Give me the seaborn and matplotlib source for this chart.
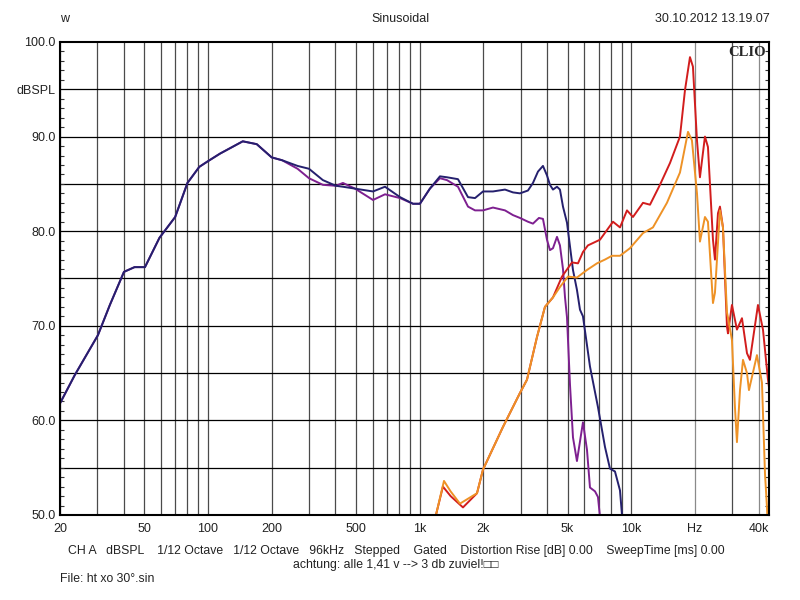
import pandas as pd
import matplotlib.pyplot as plt
import matplotlib.ticker as mticker
import seaborn as sns

# frequency (Hz) / level (dBSPL)
navy_f = [20, 23.5, 30.2, 34.4, 40.1, 45, 50.4, 59, 70, 80, 91, 100, 114, 146, 170, 200, 224,
          265, 300, 349, 402, 434, 495, 602, 686, 808, 930, 1003, 1118, 1247, 1346, 1517, 1692,
          1826, 1992, 2220, 2530, 2760, 2978, 3248, 3430, 3622, 3824, 3994, 4126, 4264, 4454,
          4600, 4754, 4966, 5130, 5300, 5534, 5720, 5908, 6376, 6956, 7506, 7926, 8368, 8838,
          9032, 9300]
navy_db = [61.8, 64.8, 69.0, 72.2, 75.7, 76.2, 76.2, 79.3, 81.5, 85.1, 86.8, 87.4, 88.2, 89.5,
           89.2, 87.8, 87.5, 86.9, 86.6, 85.4, 84.8, 84.7, 84.5, 84.2, 84.7, 83.6, 82.9, 82.9,
           84.5, 85.8, 85.7, 85.5, 83.6, 83.5, 84.2, 84.2, 84.4, 84.1, 84.0, 84.3, 85.1, 86.3,
           86.9, 85.9, 84.9, 84.4, 84.7, 84.4, 82.6, 80.9, 78.4, 75.9, 73.8, 71.7, 71.0, 65.7,
           61.4, 57.2, 54.9, 54.6, 52.6, 50.0, 48.0]

purple_f = [20, 23.5, 30.2, 34.4, 40.1, 45, 50.4, 59, 70, 80, 91, 100, 114, 146, 170, 200, 224,
            265, 300, 349, 402, 434, 495, 602, 686, 808, 930, 1003, 1118, 1247, 1346, 1517,
            1692, 1826, 1992, 2220, 2530, 2760, 2978, 3248, 3430, 3660, 3824, 3994, 4126, 4264,
            4454, 4600, 4754, 4860, 4966, 5130, 5300, 5534, 5908, 6172, 6376, 6734, 6956, 7110,
            7300]
purple_db = [61.8, 64.8, 69.0, 72.2, 75.7, 76.2, 76.2, 79.3, 81.5, 85.1, 86.8, 87.4, 88.2,
             89.5, 89.2, 87.8, 87.5, 86.6, 85.6, 84.9, 84.8, 85.1, 84.5, 83.3, 83.9, 83.5, 82.9,
             82.9, 84.5, 85.6, 85.4, 84.7, 82.6, 82.2, 82.2, 82.5, 82.2, 81.7, 81.4, 81.0, 80.8,
             81.4, 81.3, 79.1, 78.0, 78.2, 79.4, 78.5, 76.0, 73.0, 70.9, 63.8, 58.2, 55.7, 59.8,
             56.9, 52.9, 52.5, 51.9, 49.8, 48.0]

red_f = [1194, 1288, 1400, 1602, 1866, 1992, 2474, 2978, 3214, 3582, 3908, 4264, 4702, 5242,
         5596, 5908, 6238, 7110, 8190, 8838, 9538, 10178, 11350, 12250, 13650, 15220, 16970,
         17920, 18920, 19540, 20420, 21090, 22270, 23010, 24300, 24830, 25660, 26220, 27090,
         28300, 28600, 29870, 31540, 33310, 35180, 36330, 39640, 41860, 44200, 44700]
red_db = [50.0, 53.0, 52.0, 50.8, 52.3, 54.8, 59.3, 62.9, 64.3, 68.8, 72.0, 73.0, 75.2, 76.7,
          76.6, 77.8, 78.5, 79.1, 81.0, 80.4, 82.2, 81.5, 83.0, 82.8, 84.9, 87.2, 90.0, 94.9,
          98.4, 97.4, 89.6, 85.7, 90.0, 88.9, 79.1, 77.0, 81.9, 82.6, 80.4, 69.9, 69.2, 72.2,
          69.6, 70.8, 67.1, 66.4, 72.2, 69.6, 64.3, 63.5]

orange_f = [1194, 1303, 1400, 1550, 1866, 1992, 2474, 2978, 3214, 3582, 3908, 4264, 4600, 5018,
            5534, 6172, 6880, 7506, 8100, 8838, 9852, 11350, 12650, 14730, 16970, 18520, 19330,
            20420, 21090, 22270, 23010, 24300, 24830, 26220, 27090, 28300, 28600, 29870, 30860,
            31540, 32600, 33680, 35180, 35940, 39200, 41400, 42780, 43720, 44200]
orange_db = [50.0, 53.6, 52.5, 51.2, 52.3, 54.8, 59.3, 62.9, 64.3, 68.8, 72.0, 73.0, 74.1, 75.2,
             75.1, 75.9, 76.6, 77.0, 77.4, 77.4, 78.2, 79.8, 80.4, 83.0, 86.2, 90.5, 89.6, 84.0,
             78.9, 81.5, 81.0, 72.4, 73.5, 82.2, 80.4, 71.4, 70.9, 68.5, 61.4, 57.7, 63.2, 66.4,
             65.0, 63.2, 66.9, 64.0, 54.4, 50.8, 48.0]

grid_x = [20, 30, 40, 50, 60, 70, 80, 90, 100, 200, 300, 400, 500, 600, 700, 800, 900,
          1000, 2000, 3000, 4000, 5000, 6000, 7000, 8000, 9000, 10000, 20000, 30000, 40000]
xtick_pos = [20, 50, 100, 200, 500, 1000, 2000, 5000, 10000, 20000, 40000]
xtick_lab = ['20', '50', '100', '200', '500', '1k', '2k', '5k', '10k', 'Hz', '40k']
ytick_pos = [50, 60, 70, 80, 90, 95, 100]
ytick_lab = ['50.0', '60.0', '70.0', '80.0', '90.0', 'dBSPL', '100.0']

colors = {'navy': '#25206e', 'purple': '#7e2090', 'red': '#d21d1d', 'orange': '#ee9226'}

# drawing order: purple under navy, red under orange
frames = []
for name, f, db in [('purple', purple_f, purple_db), ('navy', navy_f, navy_db),
                    ('red', red_f, red_db), ('orange', orange_f, orange_db)]:
    frames.append(pd.DataFrame({'freq': f, 'db': db, 'curve': name}))
df = pd.concat(frames, ignore_index=True)

sns.set_style('white')
plt.rcParams['font.family'] = ['Liberation Sans', 'DejaVu Sans']

fig = plt.figure(figsize=(8, 6), dpi=100)
ax = fig.add_axes([0.075, 0.1417, 0.886, 0.7883])

for v in grid_x:
    c = '#8a8a8a' if v in (20000, 40000) else '#4a4a4a'
    ax.axvline(v, color=c, lw=0.9, zorder=0)
for h in range(55, 100, 5):
    ax.axhline(h, color='black', lw=0.9, zorder=0)

sns.lineplot(data=df, x='freq', y='db', hue='curve', palette=colors, estimator=None,
             sort=False, linewidth=1.4, legend=False, ax=ax)

ax.set_xscale('log')
ax.set_xlim(20, 44600)
ax.set_ylim(50, 100)
ax.set_xlabel('')
ax.set_ylabel('')

ax.set_xticks(xtick_pos)
ax.set_xticklabels(xtick_lab)
ax.xaxis.set_minor_locator(mticker.NullLocator())
ax.set_yticks(ytick_pos)
ax.set_yticklabels(ytick_lab)
ax.yaxis.set_minor_locator(mticker.MultipleLocator(1))
ax.tick_params(axis='x', length=0, pad=6, labelsize=9, colors='#222222')
ax.tick_params(axis='y', which='major', length=0, pad=3, labelsize=9, colors='#222222')
ax.tick_params(axis='y', which='minor', direction='in', length=3, width=0.8,
               left=True, right=True, color='#333333')

for s in ax.spines.values():
    s.set_color('black')
    s.set_linewidth(1.5)

ax.text(0.996, 0.992, 'CLIO', transform=ax.transAxes, ha='right', va='top',
        fontsize=10.5, fontweight='bold', family='Liberation Serif')

fig.text(0.081, 0.968, 'w', ha='center', va='center', fontsize=9, color='#222222')
fig.text(0.5, 0.968, 'Sinusoidal', ha='center', va='center', fontsize=9, color='#222222')
fig.text(0.962, 0.968, '30.10.2012 13.19.07', ha='right', va='center', fontsize=9,
         color='#222222')

fig.text(0.495, 0.081,
         'CH A   dBSPL    1/12 Octave   1/12 Octave   96kHz   Stepped    Gated    '
         'Distortion Rise [dB] 0.00    SweepTime [ms] 0.00',
         ha='center', va='center', fontsize=8.8, color='#222222')
fig.text(0.495, 0.059, 'achtung: alle 1,41 v --> 3 db zuviel!\u25a1\u25a1', ha='center',
         va='center', fontsize=8.8, color='#222222')
fig.text(0.075, 0.035, 'File: ht xo 30°.sin', ha='left', va='center', fontsize=8.8,
         color='#222222')

fig.savefig('out.png', dpi=100, facecolor='white')
